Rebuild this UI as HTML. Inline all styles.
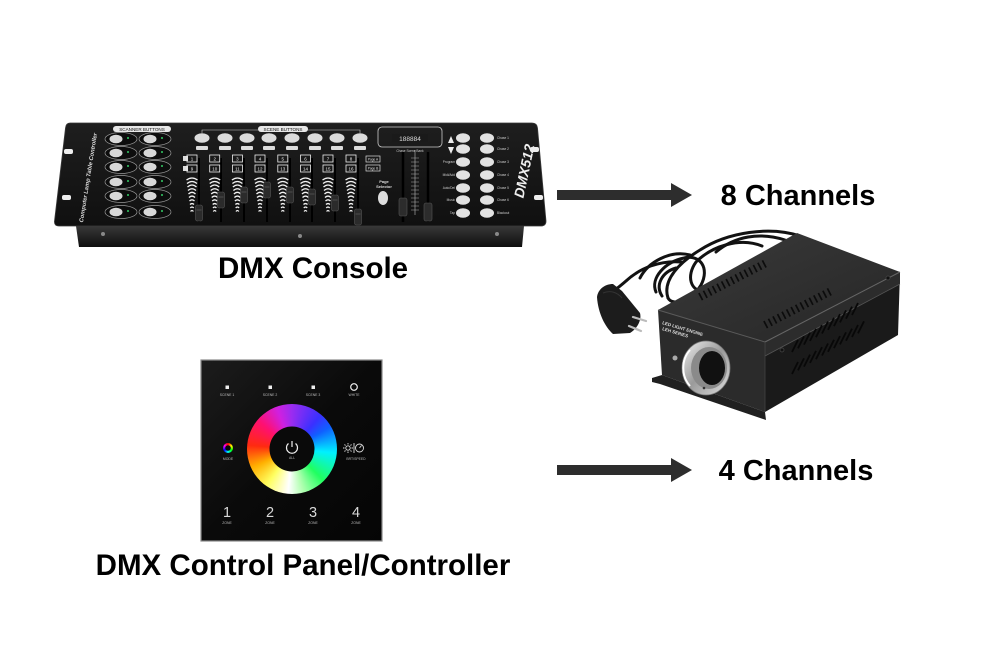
<!DOCTYPE html>
<html><head><meta charset="utf-8">
<style>
html,body{margin:0;padding:0;background:#fff;}
body{width:990px;height:660px;position:relative;overflow:hidden;font-family:"Liberation Sans",Arial,sans-serif;}
svg{position:absolute;left:0;top:0;}
.wheel{position:absolute;left:247px;top:404px;width:90px;height:90px;border-radius:50%;
background:conic-gradient(from 0deg,#9a2cf0,#3a30ff 40deg,#1060ff 60deg,#00f0ff 95deg,#20ff60 135deg,#b0ffb0 165deg,#ffffff 185deg,#ffff60 215deg,#ffb000 245deg,#ff2a10 275deg,#ff1070 310deg,#d020e0 340deg,#9a2cf0 360deg);}
.mode{position:absolute;left:223px;top:443px;width:10px;height:10px;border-radius:50%;
background:conic-gradient(#f00,#ff0,#0f0,#0ff,#00f,#f0f,#f00);}
</style></head><body>
<svg width="990" height="660" viewBox="0 0 990 660">
<defs>
<linearGradient id="plate" x1="0" y1="0" x2="0" y2="1"><stop offset="0" stop-color="#1e1e1e"/><stop offset="1" stop-color="#101010"/></linearGradient>
<linearGradient id="chas" x1="0" y1="0" x2="0" y2="1"><stop offset="0" stop-color="#383838"/><stop offset="0.5" stop-color="#232323"/><stop offset="1" stop-color="#0e0e0e"/></linearGradient>
<linearGradient id="pg" x1="0" y1="0" x2="1" y2="1"><stop offset="0" stop-color="#1c1c1c"/><stop offset="0.5" stop-color="#0a0a0a"/><stop offset="1" stop-color="#050505"/></linearGradient>
<linearGradient id="silver" x1="0" y1="0" x2="1" y2="1"><stop offset="0" stop-color="#f0f0f0"/><stop offset="0.5" stop-color="#9a9a9a"/><stop offset="1" stop-color="#e0e0e0"/></linearGradient>
<linearGradient id="topf" x1="0" y1="0" x2="1" y2="1"><stop offset="0" stop-color="#3a3a3a"/><stop offset="1" stop-color="#262626"/></linearGradient>
<g id="sb"><ellipse cx="0" cy="0" rx="16" ry="6.5" fill="#0d0d0d" stroke="#9a9a9a" stroke-width="0.7"/><ellipse cx="-5" cy="0" rx="6.5" ry="4.3" fill="#d8d8d8"/><circle cx="7" cy="-1" r="1" fill="#3c6"/></g>
<g id="chev" fill="none" stroke="#f2f2f2" stroke-width="1.3">
<path d="M-5.5,180 Q0,176 5.5,180"/><path d="M-5,183.5 Q0,179.5 5,183.5"/><path d="M-4.5,187 Q0,183 4.5,187"/>
<path d="M-4,190.5 Q0,187 4,190.5"/><path d="M-3.5,194 Q0,190.5 3.5,194"/><path d="M-3,197.5 Q0,194.5 3,197.5"/>
<path d="M-2.5,201 Q0,198.5 2.5,201"/><path d="M-2,204.5 Q0,202.5 2,204.5"/><path d="M-1.7,208 Q0,206 1.7,208"/><path d="M-1.4,211.5 Q0,209.5 1.4,211.5"/>
<rect x="-5" y="155" width="10" height="7" fill="none" stroke="#eee" stroke-width="0.8"/>
<rect x="-5" y="165" width="10" height="7" fill="none" stroke="#eee" stroke-width="0.8"/>
</g>
<g id="kn"><rect x="-3.5" y="-8" width="7" height="16" rx="2" fill="#2b2b2b" stroke="#555" stroke-width="0.6"/><line x1="-2.5" y1="-3" x2="2.5" y2="-3" stroke="#666" stroke-width="0.6"/></g>
<g id="rb"><ellipse cx="0" cy="0" rx="7" ry="4.8" fill="#e2e2e2"/></g>
</defs>

<!-- ===== DMX Console ===== -->
<path d="M70,123 L532,123 Q537,123 537.5,128 L546,221 Q546,226 541,226 L59,226 Q54,226 54.5,221 L65.5,128 Q66,123 70,123 Z" fill="url(#plate)" stroke="#3a3a3a" stroke-width="0.8"/>
<path d="M76,226 L524,226 L522,247 L79,247 Z" fill="url(#chas)"/>
<circle cx="103" cy="234" r="2" fill="#888"/><circle cx="300" cy="236" r="2" fill="#888"/><circle cx="497" cy="234" r="2" fill="#888"/>
<rect x="64" y="149" width="9" height="5" rx="2" fill="#eee"/><rect x="62" y="195" width="9" height="5" rx="2" fill="#eee"/>
<rect x="530" y="147" width="9" height="5" rx="2" fill="#eee"/><rect x="534" y="195" width="9" height="5" rx="2" fill="#eee"/>
<text transform="translate(90,178) rotate(-81)" font-size="5.8" font-weight="bold" font-style="italic" fill="#ddd" text-anchor="middle">Computer Lamp Table Controller</text>

<rect x="113" y="126" width="58" height="6" rx="3" fill="#e8e8e8"/>
<text x="142" y="131" font-size="4.6" fill="#111" text-anchor="middle">SCANNER BUTTONS</text>
<use href="#sb" x="121" y="139"/><use href="#sb" x="155" y="139"/>
<use href="#sb" x="121" y="153"/><use href="#sb" x="155" y="153"/>
<use href="#sb" x="121" y="167"/><use href="#sb" x="155" y="167"/>
<use href="#sb" x="121" y="182"/><use href="#sb" x="155" y="182"/>
<use href="#sb" x="121" y="196"/><use href="#sb" x="155" y="196"/>
<use href="#sb" x="121" y="212"/><use href="#sb" x="155" y="212"/>

<path d="M202,133 L202,130 L360,130 L360,133" fill="none" stroke="#ccc" stroke-width="0.6"/>
<rect x="258" y="126" width="50" height="6" rx="3" fill="#e8e8e8"/>
<text x="283" y="131" font-size="4.6" fill="#111" text-anchor="middle">SCENE BUTTONS</text>
<g fill="#dcdcdc">
<ellipse cx="202" cy="138" rx="7.5" ry="4.8"/><ellipse cx="225" cy="138" rx="7.5" ry="4.8"/><ellipse cx="247" cy="138" rx="7.5" ry="4.8"/><ellipse cx="269" cy="138" rx="7.5" ry="4.8"/>
<ellipse cx="292" cy="138" rx="7.5" ry="4.8"/><ellipse cx="315" cy="138" rx="7.5" ry="4.8"/><ellipse cx="337" cy="138" rx="7.5" ry="4.8"/><ellipse cx="360" cy="138" rx="7.5" ry="4.8"/>
<rect x="196" y="146" width="12" height="4" rx="1"/><rect x="219" y="146" width="12" height="4" rx="1"/><rect x="241" y="146" width="12" height="4" rx="1"/><rect x="263" y="146" width="12" height="4" rx="1"/>
<rect x="286" y="146" width="12" height="4" rx="1"/><rect x="309" y="146" width="12" height="4" rx="1"/><rect x="331" y="146" width="12" height="4" rx="1"/><rect x="354" y="146" width="12" height="4" rx="1"/>
</g>
<rect x="183" y="156" width="5" height="5" fill="#ddd"/><rect x="183" y="166" width="5" height="5" fill="#ddd"/>
<g stroke="#000" stroke-width="2">
<line x1="199" y1="158" x2="199" y2="222"/><line x1="221" y1="158" x2="221" y2="222"/><line x1="244" y1="158" x2="244" y2="222"/><line x1="267" y1="158" x2="267" y2="222"/>
<line x1="290" y1="158" x2="290" y2="222"/><line x1="312" y1="158" x2="312" y2="222"/><line x1="335" y1="158" x2="335" y2="222"/><line x1="358" y1="158" x2="358" y2="222"/>
</g>
<use href="#chev" x="192"/><use href="#chev" x="214.7"/><use href="#chev" x="237.4"/><use href="#chev" x="260"/>
<use href="#chev" x="282.8"/><use href="#chev" x="305.5"/><use href="#chev" x="328"/><use href="#chev" x="351"/>
<g font-size="4.5" fill="#eee" text-anchor="middle">
<text x="192" y="160.5">1</text><text x="214.7" y="160.5">2</text><text x="237.4" y="160.5">3</text><text x="260" y="160.5">4</text><text x="282.8" y="160.5">5</text><text x="305.5" y="160.5">6</text><text x="328" y="160.5">7</text><text x="351" y="160.5">8</text>
<text x="192" y="170.5">9</text><text x="214.7" y="170.5">10</text><text x="237.4" y="170.5">11</text><text x="260" y="170.5">12</text><text x="282.8" y="170.5">13</text><text x="305.5" y="170.5">14</text><text x="328" y="170.5">15</text><text x="351" y="170.5">16</text>
</g>
<use href="#kn" x="199" y="213"/><use href="#kn" x="221" y="200"/><use href="#kn" x="244" y="195"/><use href="#kn" x="267" y="190"/>
<use href="#kn" x="290" y="195"/><use href="#kn" x="312" y="197"/><use href="#kn" x="335" y="203"/><use href="#kn" x="358" y="217"/>

<!-- right section -->
<rect x="378" y="127" width="64" height="20" rx="4" fill="none" stroke="#ccc" stroke-width="0.8"/>
<rect x="392" y="134" width="36" height="8" fill="#1a1a1a"/>
<text x="410" y="141" font-size="6.5" fill="#ddd" text-anchor="middle">188884</text>
<text x="410" y="152" font-size="3.2" fill="#ccc" text-anchor="middle">Chase Scene Bank</text>
<rect x="366" y="156" width="14" height="6" fill="none" stroke="#ddd" stroke-width="0.7"/>
<rect x="366" y="165" width="14" height="6" fill="none" stroke="#ddd" stroke-width="0.7"/>
<text x="373" y="160.5" font-size="3.2" fill="#ddd" text-anchor="middle">Page A</text>
<text x="373" y="169.5" font-size="3.2" fill="#ddd" text-anchor="middle">Page B</text>
<text x="384" y="183" font-size="4" font-weight="bold" fill="#ddd" text-anchor="middle">Page</text>
<text x="384" y="188" font-size="4" font-weight="bold" fill="#ddd" text-anchor="middle">Selector</text>
<ellipse cx="383" cy="198" rx="5" ry="7" fill="#ddd"/>
<line x1="403" y1="152" x2="403" y2="222" stroke="#000" stroke-width="2.5"/>
<line x1="428" y1="152" x2="428" y2="222" stroke="#000" stroke-width="2.5"/>
<line x1="415" y1="150" x2="415" y2="215" stroke="#bbb" stroke-width="0.6"/>
<path d="M411,158h8M411,162h8M411,166h8M411,170h8M411,174h8M411,178h8M411,182h8M411,186h8M411,190h8M411,194h8M411,198h8M411,202h8M411,206h8M411,210h8" stroke="#aaa" stroke-width="0.5"/>
<rect x="399" y="198" width="8" height="18" rx="2" fill="#2c2c2c" stroke="#555" stroke-width="0.6"/>
<rect x="424" y="203" width="8" height="18" rx="2" fill="#2c2c2c" stroke="#555" stroke-width="0.6"/>
<polygon points="448,143 454,143 451,136" fill="#eee"/><polygon points="448,147 454,147 451,154" fill="#eee"/>
<use href="#rb" x="463" y="138"/><use href="#rb" x="487" y="138"/>
<use href="#rb" x="463" y="149"/><use href="#rb" x="487" y="149"/>
<use href="#rb" x="463" y="162"/><use href="#rb" x="487" y="162"/>
<use href="#rb" x="463" y="175"/><use href="#rb" x="487" y="175"/>
<use href="#rb" x="463" y="188"/><use href="#rb" x="487" y="188"/>
<use href="#rb" x="463" y="200"/><use href="#rb" x="487" y="200"/>
<use href="#rb" x="463" y="213"/><use href="#rb" x="487" y="213"/>
<g font-size="3.2" fill="#ccc">
<text x="497" y="139">Chase 1</text><text x="497" y="150">Chase 2</text><text x="497" y="163">Chase 3</text><text x="497" y="176">Chase 4</text><text x="497" y="189">Chase 5</text><text x="497" y="201">Chase 6</text><text x="497" y="214">Blackout</text>
</g>
<g font-size="3.2" fill="#ccc" text-anchor="end">
<text x="455" y="163">Program</text><text x="455" y="176">Midi/Add</text><text x="455" y="189">Auto/Del</text><text x="455" y="201">Music</text><text x="455" y="214">Tap</text>
</g>
<text transform="translate(529,172) rotate(-78)" font-size="14" font-weight="bold" font-style="italic" fill="#eee" text-anchor="middle">DMX512</text>

<!-- ===== Control Panel ===== -->
<rect x="201" y="360" width="181" height="181" fill="url(#pg)" stroke="#8a8a8a" stroke-width="1.2"/>
<rect x="225.5" y="385.5" width="3.5" height="3.5" fill="#eee"/>
<rect x="268.5" y="385.5" width="3.5" height="3.5" fill="#eee"/>
<rect x="311.5" y="385.5" width="3.5" height="3.5" fill="#eee"/>
<circle cx="354" cy="387" r="3.3" fill="none" stroke="#eee" stroke-width="1.2"/>
<g font-size="3.4" fill="#bbb" text-anchor="middle">
<text x="227" y="396">SCENE 1</text><text x="270" y="396">SCENE 2</text><text x="313" y="396">SCENE 3</text><text x="354" y="396">WHITE</text>
<text x="228" y="460">MODE</text><text x="356" y="460">BRT/SPEED</text>
<text x="227" y="524">ZONE</text><text x="270" y="524">ZONE</text><text x="313" y="524">ZONE</text><text x="356" y="524">ZONE</text>
</g>
<g font-size="14.5" fill="#d8d8d8" text-anchor="middle">
<text x="227" y="517">1</text><text x="270" y="517">2</text><text x="313" y="517">3</text><text x="356" y="517">4</text>
</g>
<g stroke="#ddd" stroke-width="0.9" fill="none">
<circle cx="348" cy="448" r="2.2"/>
<path d="M348,443v1.5M348,451.5v1.5M343,448h1.5M351.5,448h1.5M344.5,444.5l1,1M350.5,450.5l1,1M344.5,451.5l1,-1M350.5,445.5l1,-1"/>
<line x1="354" y1="443" x2="354" y2="453"/>
<circle cx="359.5" cy="448" r="4"/><line x1="359.5" y1="448" x2="361.5" y2="445.5"/>
</g>

<!-- ===== Arrows ===== -->
<path d="M557,190 L671,190 L671,183 L692,195 L671,207 L671,200 L557,200 Z" fill="#2d2d2d"/>
<path d="M557,465 L671,465 L671,458 L692,470 L671,482 L671,475 L557,475 Z" fill="#2d2d2d"/>

<!-- ===== Light engine ===== -->
<g fill="none" stroke="#121212" stroke-width="3" stroke-linecap="round">
<path d="M800,236 C770,226 728,232 700,250 C680,262 662,280 668,298"/>
<path d="M668,298 C673,307 692,300 701,285 C710,268 700,254 684,258 C665,262 650,278 656,292"/>
<path d="M762,246 C740,237 712,246 696,262 C686,276 690,292 706,292"/>
<path d="M785,240 C760,232 735,236 716,252"/>
<path d="M682,262 C660,260 640,268 626,281 C618,288 612,292 608,296"/>
<path d="M690,255 C670,250 648,262 640,278"/>
<path d="M676,268 C662,272 655,285 662,296"/>
</g>
<path d="M597,297 C598,289 605,284 613,284 L622,291 L640,313 C642,320 637,329 630,333 L613,334 C605,327 598,313 597,297 Z" fill="#1c1c1c"/>
<path d="M603,293 C610,290 617,292 622,298" fill="none" stroke="#333" stroke-width="1"/>
<line x1="633" y1="317" x2="646" y2="321" stroke="#bbb" stroke-width="2.2" stroke-linecap="round"/>
<line x1="629" y1="326" x2="641" y2="331" stroke="#bbb" stroke-width="2.2" stroke-linecap="round"/>

<polygon points="658,310 765,342 900,272 797,233" fill="url(#topf)"/>
<polygon points="658,310 765,342 765,412 662,375" fill="#2b2b2b"/>
<polygon points="765,342 900,272 898,335 765,412" fill="#1a1a1a"/>
<polygon points="765,342 900,272 900,284 765,356" fill="#2c2c2c"/>
<line x1="765" y1="356" x2="900" y2="284" stroke="#555" stroke-width="0.8"/>
<line x1="658" y1="310" x2="765" y2="342" stroke="#5a5a5a" stroke-width="1"/>
<line x1="765" y1="342" x2="900" y2="272" stroke="#666" stroke-width="1"/>
<line x1="765" y1="342" x2="765" y2="412" stroke="#444" stroke-width="0.8"/>
<polygon points="652,378 662,375 765,412 766,420 660,384 652,382" fill="#202020"/>
<circle cx="782" cy="350" r="2" fill="#111" stroke="#4a4a4a" stroke-width="0.7"/>
<circle cx="888" cy="278" r="2" fill="#111" stroke="#4a4a4a" stroke-width="0.7"/>
<path d="M700,297 L768,262" stroke="#0c0c0c" stroke-width="8" stroke-dasharray="1.7 3.4" fill="none"/>
<path d="M765,325 L833,290" stroke="#0c0c0c" stroke-width="8" stroke-dasharray="1.7 3.4" fill="none"/>
<g stroke="#080808" stroke-width="1.8">
<path d="M792,352l6,-12M798,348.3l6,-12M804,344.6l6,-12M810,340.9l6,-12M816,337.2l6,-12M822,333.5l6,-12M828,329.8l6,-12M834,326.1l6,-12M840,322.4l6,-12M846,318.7l6,-12M852,315l6,-12"/>
<path d="M792,374l6,-12M798,370.3l6,-12M804,366.6l6,-12M810,362.9l6,-12M816,359.2l6,-12M822,355.5l6,-12M828,351.8l6,-12M834,348.1l6,-12M840,344.4l6,-12M846,340.7l6,-12M852,337l6,-12M858,333.3l6,-12"/>
</g>
<text transform="translate(662,324) rotate(16.6)" font-size="4.5" font-weight="bold" fill="#ddd">LED LIGHT ENGINE</text>
<text transform="translate(662,330) rotate(16.6)" font-size="4.5" font-weight="bold" fill="#ddd">LEH SERIES</text>
<circle cx="675" cy="358" r="2.5" fill="#aaa"/>
<ellipse cx="706" cy="368" rx="24" ry="27" fill="url(#silver)" stroke="#777" stroke-width="0.8"/>
<path d="M690,350 A22,25 0 0 0 690,386" fill="none" stroke="#fff" stroke-width="2"/>
<ellipse cx="709" cy="368" rx="18" ry="21" fill="#8a8a8a"/>
<ellipse cx="712" cy="368" rx="13" ry="17" fill="#111"/>
<circle cx="704" cy="388" r="1.3" fill="#333"/>

<!-- ===== Labels ===== -->
<g font-weight="bold" fill="#000" text-anchor="middle">
<text x="313" y="278" font-size="29.5">DMX Console</text>
<text x="303" y="575" font-size="29.5">DMX Control Panel/Controller</text>
<text x="798" y="205" font-size="29">8 Channels</text>
<text x="796" y="480" font-size="29">4 Channels</text>
</g>
</svg>
<div class="wheel"></div>
<div class="mode"></div>
<svg width="990" height="660" viewBox="0 0 990 660">
<circle cx="292" cy="449" r="22.5" fill="#0a0a0a"/>
<circle cx="228" cy="448" r="2.8" fill="#0a0a0a"/>
<path d="M288.5,443.5 A5.5,5.5 0 1 0 295.5,443.5" fill="none" stroke="#eee" stroke-width="1.2"/>
<line x1="292" y1="441" x2="292" y2="447" stroke="#eee" stroke-width="1.2"/>
<text x="292" y="459" font-size="3.4" fill="#bbb" text-anchor="middle">ALL</text>
</svg>
</body></html>
